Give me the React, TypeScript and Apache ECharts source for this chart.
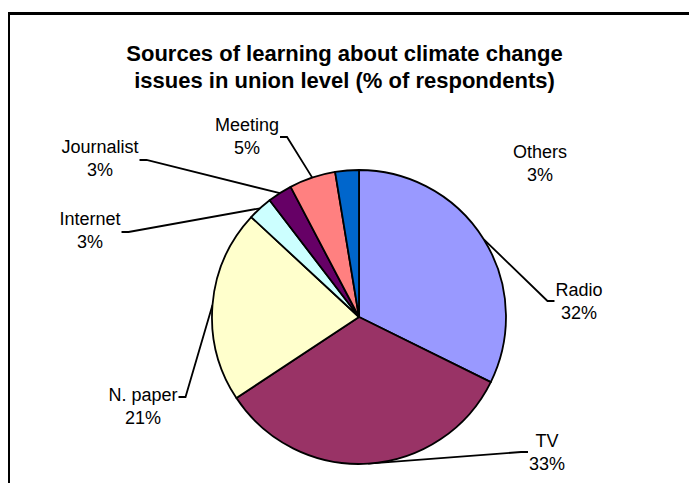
import React, { useEffect, useRef } from 'react';
import * as echarts from 'echarts';

const categories = ['Radio', 'TV', 'N. paper', 'Internet', 'Journalist', 'Meeting', 'Others'];
const values = [32.3, 33.4, 21.2, 2.7, 2.7, 5.1, 2.6];
const colors = ['#9999FF', '#993366', '#FFFFCC', '#CCFFFF', '#660066', '#FF8080', '#0066CC'];
const titleLines = ['Sources of learning about climate change', 'issues in union level (% of respondents)'];
const showLeader = [true, true, true, true, true, true, false];

// label layout: text block centre, side the leader attaches to, vertical offset of the leader tick
const labelPositions: [number, number][] = [
  [579, 301],
  [547, 452],
  [143, 406],
  [90, 230],
  [100, 158],
  [247, 136],
  [540, 163],
];
const leaderSide = ['left', 'left', 'right', 'right', 'right', 'right', 'none'];
const leaderTickDy = [0, 0, -9, 2, 2, 1, 0];

const FONT = '"Liberation Sans", Arial, sans-serif';
const TICK = 7;

export default function App() {
  const ref = useRef<HTMLDivElement>(null);
  useEffect(() => {
    if (!ref.current) return;
    const chart = echarts.init(ref.current, null, { renderer: 'svg' });
    const data = categories.map((name, i) => ({
      name,
      value: values[i],
      itemStyle: { color: colors[i] },
      labelLine: { show: showLeader[i] },
    }));
    chart.setOption({
      animation: false,
      backgroundColor: '#fff',
      title: {
        text: titleLines.join('\n'),
        left: 'center',
        top: 35,
        textStyle: {
          fontFamily: FONT,
          fontSize: 22,
          fontWeight: 'bold',
          color: '#000',
          lineHeight: 27,
        },
      },
      graphic: [
        { type: 'line', shape: { x1: 8, y1: 13.5, x2: 689, y2: 13.5 }, style: { stroke: '#000', lineWidth: 3 } },
        { type: 'line', shape: { x1: 9, y1: 12, x2: 9, y2: 483 }, style: { stroke: '#000', lineWidth: 2 } },
      ],
      series: [
        {
          type: 'pie',
          center: [359, 317],
          radius: 147,
          startAngle: 90,
          clockwise: true,
          data,
          itemStyle: { borderColor: '#000', borderWidth: 1.8 },
          emphasis: { disabled: true },
          label: {
            show: true,
            position: 'outside',
            fontFamily: FONT,
            fontSize: 18,
            lineHeight: 23,
            color: '#000',
            align: 'center',
            formatter: (p: any) => `${p.name}\n${Math.round(p.percent)}%`,
          },
          labelLine: {
            show: true,
            length: 10,
            length2: TICK,
            lineStyle: { color: '#000', width: 1.8 },
          },
          labelLayout: (params: any) => {
            const i = params.dataIndex;
            const [cx, cy] = labelPositions[i];
            const out: any = { x: cx, y: cy, align: 'center', verticalAlign: 'middle' };
            const side = leaderSide[i];
            const anchor = params.labelLinePoints && params.labelLinePoints[0];
            if (side !== 'none' && anchor) {
              const w = params.labelRect.width;
              const ty = cy + leaderTickDy[i];
              const ex = side === 'left' ? cx - w / 2 - 1 : cx + w / 2 + 1;
              const mx = side === 'left' ? ex - TICK : ex + TICK;
              out.labelLinePoints = [
                [anchor[0], anchor[1]],
                [mx, ty],
                [ex, ty],
              ];
            }
            return out;
          },
        },
      ],
    });
    return () => chart.dispose();
  }, []);
  return <div ref={ref} style={{ position: 'absolute', left: 0, top: 0, width: 689, height: 483 }} />;
}
